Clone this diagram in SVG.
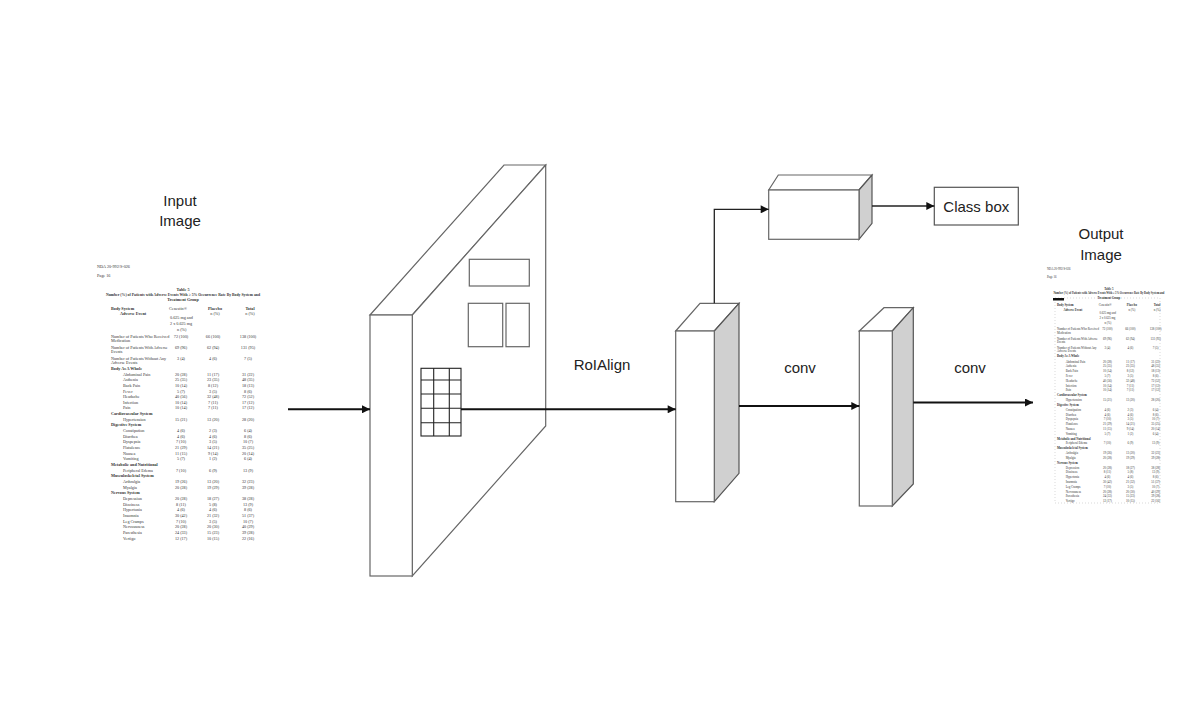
<svg xmlns="http://www.w3.org/2000/svg" width="1196" height="718" viewBox="0 0 1196 718">
<style>
.lbl{font-family:"Liberation Sans",Arial,sans-serif;font-size:15px;fill:#222;text-anchor:middle}
.d{font-family:"Liberation Serif","Times New Roman",serif;font-size:4.2px;fill:#333}
.m{text-anchor:middle}
.b{font-weight:bold}
.face{fill:#fff;stroke:#666;stroke-width:1.2}
.side{fill:#d0d0d0;stroke:#555;stroke-width:1.2}
.thin{fill:none;stroke:#222;stroke-width:1.3}
.wire{fill:none;stroke:#111;stroke-width:2}
</style>
<defs>
<marker id="ah" viewBox="0 0 10 10" refX="10" refY="5" markerWidth="9" markerHeight="8" markerUnits="userSpaceOnUse" orient="auto">
<path d="M0,0 L10,5 L0,10 Z" fill="#111"/>
</marker>
</defs>
<rect width="1196" height="718" fill="#fff"/>

<g id="input-label">
<text class="lbl" x="180" y="206">Input</text>
<text class="lbl" x="180" y="226">Image</text>
</g>

<g id="input-image">
<g id="doc-content">
<text class="d" x="97" y="267.5">NDA 20-992/S-026</text>
<text class="d" x="97" y="276.5">Page 16</text>
<text class="d m b" x="183" y="290.5">Table 5</text>
<text class="d m b" x="183" y="295.5" textLength="154" lengthAdjust="spacingAndGlyphs">Number (%) of Patients with Adverse Events With ≥ 5% Occurrence Rate By Body System and</text>
<text class="d m b" x="183" y="300.5">Treatment Group</text>
<text class="d b" x="111" y="309.5">Body System</text>
<text class="d b" x="120" y="314.5">Adverse Event</text>
<text class="d" x="169" y="309.5">Cenestin®</text>
<text class="d" x="170" y="318.5">0.625 mg and</text>
<text class="d" x="170" y="324.5">2 x 0.625 mg</text>
<text class="d" x="177" y="330.5">n (%)</text>
<text class="d m b" x="215" y="309.5">Placebo</text>
<text class="d m" x="215" y="314.5">n (%)</text>
<text class="d m b" x="250" y="309.5">Total</text>
<text class="d m" x="250" y="314.5">n (%)</text>
<text class="d" x="111" y="337.5">Number of Patients Who Received</text>
<text class="d" x="111" y="341.5">Medication</text>
<text class="d m" x="181" y="337.5">72 (100)</text><text class="d m" x="213" y="337.5">66 (100)</text><text class="d m" x="248" y="337.5">138 (100)</text>
<text class="d" x="111" y="348.5">Number of Patients With Adverse</text>
<text class="d" x="111" y="352.5">Events</text>
<text class="d m" x="181" y="348.5">69 (96)</text><text class="d m" x="213" y="348.5">62 (94)</text><text class="d m" x="248" y="348.5">131 (95)</text>
<text class="d" x="111" y="359.5">Number of Patients Without Any</text>
<text class="d" x="111" y="363.5">Adverse Events</text>
<text class="d m" x="181" y="359.5">3 (4)</text><text class="d m" x="213" y="359.5">4 (6)</text><text class="d m" x="248" y="359.5">7 (5)</text>
<text class="d b" x="111" y="369.5">Body As A Whole</text>
<text class="d" x="123" y="375.5">Abdominal Pain</text><text class="d m" x="181" y="375.5">20 (28)</text><text class="d m" x="213" y="375.5">11 (17)</text><text class="d m" x="248" y="375.5">31 (22)</text>
<text class="d" x="123" y="381.2">Asthenia</text><text class="d m" x="181" y="381.2">25 (35)</text><text class="d m" x="213" y="381.2">23 (35)</text><text class="d m" x="248" y="381.2">48 (35)</text>
<text class="d" x="123" y="386.8">Back Pain</text><text class="d m" x="181" y="386.8">10 (14)</text><text class="d m" x="213" y="386.8">8 (12)</text><text class="d m" x="248" y="386.8">18 (13)</text>
<text class="d" x="123" y="392.5">Fever</text><text class="d m" x="181" y="392.5">5 (7)</text><text class="d m" x="213" y="392.5">3 (5)</text><text class="d m" x="248" y="392.5">8 (6)</text>
<text class="d" x="123" y="398.1">Headache</text><text class="d m" x="181" y="398.1">40 (56)</text><text class="d m" x="213" y="398.1">32 (48)</text><text class="d m" x="248" y="398.1">72 (52)</text>
<text class="d" x="123" y="403.8">Infection</text><text class="d m" x="181" y="403.8">10 (14)</text><text class="d m" x="213" y="403.8">7 (11)</text><text class="d m" x="248" y="403.8">17 (12)</text>
<text class="d" x="123" y="409.4">Pain</text><text class="d m" x="181" y="409.4">10 (14)</text><text class="d m" x="213" y="409.4">7 (11)</text><text class="d m" x="248" y="409.4">17 (12)</text>
<text class="d b" x="111" y="415.1">Cardiovascular System</text>
<text class="d" x="123" y="420.7">Hypertension</text><text class="d m" x="181" y="420.7">15 (21)</text><text class="d m" x="213" y="420.7">13 (20)</text><text class="d m" x="248" y="420.7">28 (20)</text>
<text class="d b" x="111" y="426.4">Digestive System</text>
<text class="d" x="123" y="432.1">Constipation</text><text class="d m" x="181" y="432.1">4 (6)</text><text class="d m" x="213" y="432.1">2 (3)</text><text class="d m" x="248" y="432.1">6 (4)</text>
<text class="d" x="123" y="437.7">Diarrhea</text><text class="d m" x="181" y="437.7">4 (6)</text><text class="d m" x="213" y="437.7">4 (6)</text><text class="d m" x="248" y="437.7">8 (6)</text>
<text class="d" x="123" y="443.4">Dyspepsia</text><text class="d m" x="181" y="443.4">7 (10)</text><text class="d m" x="213" y="443.4">3 (5)</text><text class="d m" x="248" y="443.4">10 (7)</text>
<text class="d" x="123" y="449.0">Flatulence</text><text class="d m" x="181" y="449.0">21 (29)</text><text class="d m" x="213" y="449.0">14 (21)</text><text class="d m" x="248" y="449.0">35 (25)</text>
<text class="d" x="123" y="454.7">Nausea</text><text class="d m" x="181" y="454.7">11 (15)</text><text class="d m" x="213" y="454.7">9 (14)</text><text class="d m" x="248" y="454.7">20 (14)</text>
<text class="d" x="123" y="460.3">Vomiting</text><text class="d m" x="181" y="460.3">5 (7)</text><text class="d m" x="213" y="460.3">1 (2)</text><text class="d m" x="248" y="460.3">6 (4)</text>
<text class="d b" x="111" y="466.0">Metabolic and Nutritional</text>
<text class="d" x="123" y="471.6">Peripheral Edema</text><text class="d m" x="181" y="471.6">7 (10)</text><text class="d m" x="213" y="471.6">6 (9)</text><text class="d m" x="248" y="471.6">13 (9)</text>
<text class="d b" x="111" y="477.3">Musculoskeletal System</text>
<text class="d" x="123" y="482.9">Arthralgia</text><text class="d m" x="181" y="482.9">19 (26)</text><text class="d m" x="213" y="482.9">13 (20)</text><text class="d m" x="248" y="482.9">32 (23)</text>
<text class="d" x="123" y="488.6">Myalgia</text><text class="d m" x="181" y="488.6">20 (28)</text><text class="d m" x="213" y="488.6">19 (29)</text><text class="d m" x="248" y="488.6">39 (28)</text>
<text class="d b" x="111" y="494.3">Nervous System</text>
<text class="d" x="123" y="499.9">Depression</text><text class="d m" x="181" y="499.9">20 (28)</text><text class="d m" x="213" y="499.9">18 (27)</text><text class="d m" x="248" y="499.9">38 (28)</text>
<text class="d" x="123" y="505.6">Dizziness</text><text class="d m" x="181" y="505.6">8 (11)</text><text class="d m" x="213" y="505.6">5 (8)</text><text class="d m" x="248" y="505.6">13 (9)</text>
<text class="d" x="123" y="511.2">Hypertonia</text><text class="d m" x="181" y="511.2">4 (6)</text><text class="d m" x="213" y="511.2">4 (6)</text><text class="d m" x="248" y="511.2">8 (6)</text>
<text class="d" x="123" y="516.9">Insomnia</text><text class="d m" x="181" y="516.9">30 (42)</text><text class="d m" x="213" y="516.9">21 (32)</text><text class="d m" x="248" y="516.9">51 (37)</text>
<text class="d" x="123" y="522.5">Leg Cramps</text><text class="d m" x="181" y="522.5">7 (10)</text><text class="d m" x="213" y="522.5">3 (5)</text><text class="d m" x="248" y="522.5">10 (7)</text>
<text class="d" x="123" y="528.2">Nervousness</text><text class="d m" x="181" y="528.2">20 (28)</text><text class="d m" x="213" y="528.2">20 (30)</text><text class="d m" x="248" y="528.2">40 (29)</text>
<text class="d" x="123" y="533.8">Paresthesia</text><text class="d m" x="181" y="533.8">24 (33)</text><text class="d m" x="213" y="533.8">15 (23)</text><text class="d m" x="248" y="533.8">39 (28)</text>
<text class="d" x="123" y="539.5">Vertigo</text><text class="d m" x="181" y="539.5">12 (17)</text><text class="d m" x="213" y="539.5">10 (15)</text><text class="d m" x="248" y="539.5">22 (16)</text>
</g>
</g>

<g id="feature-map">
<polygon class="face" points="370,315 504,165 545.7,165 412.3,315"/>
<polygon class="face" points="412.3,315 545.7,165 545.7,426 412.3,576"/>
<rect class="face" x="370" y="315" width="42.3" height="261"/>
<rect class="face" x="469.3" y="259.3" width="60" height="26.7" stroke="#333"/>
<rect class="face" x="468.3" y="303.3" width="34.4" height="43.4" stroke="#333"/>
<rect class="face" x="506" y="303.3" width="23.3" height="43.4" stroke="#333"/>
<g id="roi-grid" fill="none" stroke="#222" stroke-width="1.1">
<rect x="421" y="368.3" width="40" height="67.7"/>
<path d="M433.7,368.3V436 M449.3,368.3V436 M421,380H461 M421,394H461 M421,408.3H461 M421,422.7H461"/>
</g>
</g>

<g id="box-a">
<polygon class="face" points="675.7,331 700,303.3 739,303.3 714.3,331"/>
<polygon class="side" points="714.3,331 739,303.3 739,473.3 714.3,501.7"/>
<rect class="face" x="675.7" y="331" width="38.6" height="170.7"/>
</g>

<g id="box-b">
<polygon class="face" points="859.3,331 884,307.7 913.3,307.7 892.3,331"/>
<polygon class="side" points="892.3,331 913.3,307.7 913.3,484 892.3,506"/>
<rect class="face" x="859.3" y="331" width="33" height="175"/>
</g>

<g id="box-c">
<polygon class="face" points="768.7,190 778.3,175 872,175 859,190"/>
<polygon class="side" points="859,190 872,175 872,223.3 859,239.3"/>
<rect class="face" x="768.7" y="190" width="90.3" height="49.3"/>
</g>

<g id="class-box">
<rect x="934.3" y="187.3" width="84" height="37.7" fill="#fff" stroke="#555" stroke-width="1.2"/>
<text class="lbl" x="976.3" y="211.5">Class box</text>
</g>

<g id="output-label">
<text class="lbl" x="1101" y="239">Output</text>
<text class="lbl" x="1101" y="260">Image</text>
</g>

<g id="output-image">
<rect x="1055" y="298" width="105" height="205" fill="none" stroke="#cfcfcf" stroke-width="0.8" stroke-dasharray="1 2"/>
<use href="#doc-content" transform="matrix(0.72,0,0,0.852,977.08,42.6)"/>
<rect x="1053" y="298" width="11" height="2.5" fill="#111"/>
</g>

<g id="connectors">
<line class="wire" x1="288" y1="409.3" x2="370" y2="409.3" marker-end="url(#ah)"/>
<line class="wire" x1="461" y1="409.3" x2="675.7" y2="409.3" marker-end="url(#ah)"/>
<polyline class="thin" points="714.3,303.3 714.3,209.3 768.7,209.3" marker-end="url(#ah)"/>
<line class="thin" x1="872" y1="206" x2="934.3" y2="206" marker-end="url(#ah)"/>
<line class="wire" x1="739" y1="406" x2="859.3" y2="406" marker-end="url(#ah)"/>
<line class="wire" x1="913.3" y1="402.5" x2="1033" y2="402.5" marker-end="url(#ah)"/>
</g>

<g id="edge-labels">
<text class="lbl" x="602" y="370">RoIAlign</text>
<text class="lbl" x="800" y="373">conv</text>
<text class="lbl" x="970" y="373">conv</text>
</g>
</svg>
